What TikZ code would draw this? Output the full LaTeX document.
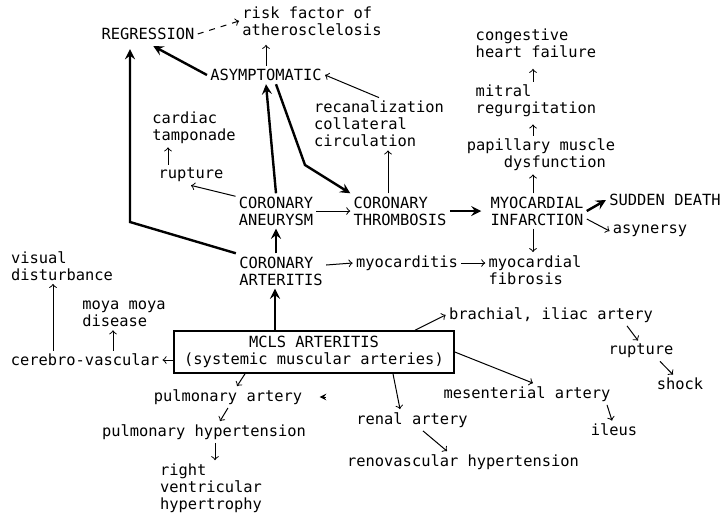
\documentclass[tikz,border=0pt]{standalone}
\usepackage{fontspec}
\setmonofont{DejaVu Sans Mono}

\begin{document}
\begin{tikzpicture}[x=0.5pt,y=-0.5pt,
	every node/.style={font=\ttfamily\fontsize{7.7}{8.5}\selectfont, inner sep=1.5pt, align=left},
	thn/.style={->, line width=0.5pt},
	thk/.style={-stealth, line width=1.2pt}]
	\useasboundingbox (0,0) rectangle (726,515);

	% heart
	\node (regr) at (148,34) {REGRESSION};
	\node (risk) at (312,21) {risk factor of\\atherosclelosis};
	\node (asym) at (266,75) {ASYMPTOMATIC};
	\node (recan) at (379,124) {recanalization\\collateral\\circulation};
	\node (tamp) at (194,128) {cardiac\\tamponade};
	\node (rupL) at (191,175) {rupture};
	\node (anrm) at (276,211) {CORONARY\\ANEURYSM};
	\node (thromb) at (400,211) {CORONARY\\THROMBOSIS};
	\node (mi) at (537,211) {MYOCARDIAL\\INFARCTION};
	\node (death) at (665,200) {SUDDEN DEATH};
	\node (asyn) at (650,231) {asynersy};
	\node (papil) at (541,155) {papillary muscle\\\phantom{papi}dysfunction};
	\node (mitral) at (536,101) {mitral\\regurgitation};
	\node (chf) at (536,43) {congestive\\heart failure};
	\node (fibr) at (535,270) {myocardial\\fibrosis};
	\node (mycd) at (407,263) {myocarditis};
	\node (arter) at (281,271) {CORONARY\\ARTERITIS};

	% systemic
	\node[draw, line width=1pt, align=center, inner xsep=5pt, inner ysep=2.5pt] (mcls) at (314,352) {MCLS ARTERITIS\\(systemic muscular arteries)};
	\node (cereb) at (85,360) {cerebro-vascular};
	\node (visual) at (62,266) {visual\\disturbance};
	\node (moya) at (124,314) {moya moya\\disease};
	\node (pulA) at (228,397) {pulmonary artery};
	\node (pulH) at (204,432) {pulmonary hypertension};
	\node (rvh) at (211,488) {right\\ventricular\\hypertrophy};
	\node (renal) at (412,420) {renal artery};
	\node (renov) at (463,462) {renovascular hypertension};
	\node (brach) at (551,315) {brachial, iliac artery};
	\node (rupR) at (641,351) {rupture};
	\node (shock) at (680,384) {shock};
	\node (mesen) at (527,394) {mesenterial artery};
	\node (ileus) at (614,430) {ileus};

	\draw[thn, dashed] (regr.east) -- (risk.west);
	\draw[thn, shorten >=3pt] (asym.north) -- (asym.north |- risk.south);
	\draw[thk, shorten >=3pt] (asym.west) -- (regr.south);
	\draw[thn] (recan.north) -- (asym.east);
	\draw[thn] ([xshift=-6pt]thromb.north) -- ([xshift=4.5pt]recan.south);
	\draw[thn] ([xshift=-11.5pt]rupL.north) -- ([xshift=-13pt]tamp.south);
	\draw[thn] (anrm.160) -- (rupL.south);
	\draw[thk] (anrm.north) -- (asym.south);
	\draw[thk] ([xshift=5pt]asym.south) -- (305,165) -- (thromb.north west);
	\draw[thn] (anrm.east) -- (thromb.west);
	\draw[thk, shorten >=3pt] (thromb.east) -- (mi.west);
	\draw[thk] (mi.east) -- (death.west);
	\draw[thn] ([yshift=-4pt]mi.east) -- (asyn.west);
	\draw[thn] ([xshift=-2pt]mi.north) -- ([xshift=-4pt]papil.south);
	\draw[thn, shorten >=2pt] ([xshift=-4pt]papil.north) -- ([xshift=-1.5pt]mitral.south);
	\draw[thn, shorten >=4pt] ([xshift=-1.5pt]mitral.north) -- ([xshift=-1.5pt]chf.south);
	\draw[thn] ([xshift=-2pt]mi.south) -- ([xshift=-1pt]fibr.north);
	\draw[thn] (mycd.east) -- (mycd.east -| fibr.west);
	\draw[thn] ([yshift=3pt]arter.east) -- (mycd.west);
	\draw[thk] (arter.north -| anrm.south) -- (anrm.south);
	\draw[thk, shorten >=3pt] (arter.north west) -- (130,222) -- ([xshift=-9pt]regr.south);

	\draw[thk] ([xshift=-19.5pt]mcls.north) -- ([xshift=-3pt]arter.south);
	\draw[thn] (mcls.west |- cereb.east) -- (cereb.east);
	\draw[thn] ([xshift=-16pt]cereb.north) -- ([xshift=-4.5pt]visual.south);
	\draw[thn] ([xshift=14pt]cereb.north) -- ([xshift=-5.5pt]moya.south);
	\draw[thn] ([xshift=-34.5pt]mcls.south) -- ([xshift=4.5pt]pulA.north);
	\draw[thn] (pulA.south) -- ([xshift=8pt]pulH.north);
	\draw[thn] ([xshift=5.5pt]pulH.south) -- ([xshift=2pt]rvh.north);
	\draw[-stealth, line width=0.5pt] ([xshift=10pt]pulA.east) -- ([xshift=7pt]pulA.east);
	\draw[thn] ([xshift=39.5pt]mcls.south) -- ([xshift=-6pt]renal.north);
	\draw[thn] ([xshift=5.5pt]renal.south) -- ([xshift=-8pt]renov.north);
	\draw[thn] ([xshift=50.5pt]mcls.north) -- (brach.west);
	\draw[thn] ([xshift=38pt]brach.south) -- ([xshift=-1.5pt]rupR.north);
	\draw[thn] ([xshift=9.5pt]rupR.south) -- ([xshift=-3.5pt]shock.north);
	\draw[thn] (mcls.east) -- ([xshift=3pt]mesen.north);
	\draw[thn] ([xshift=40pt]mesen.south) -- ([xshift=-1pt]ileus.north);

\end{tikzpicture}
\end{document}
